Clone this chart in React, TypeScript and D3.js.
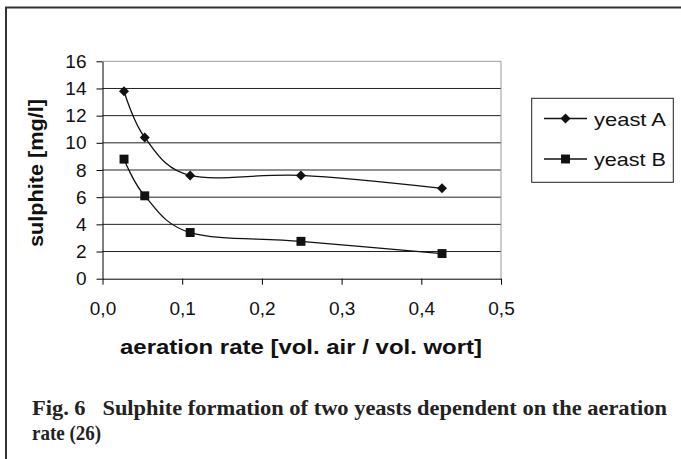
import { useEffect, useRef } from "react"
import * as d3 from "d3"

const aeration = [0.027, 0.053, 0.11, 0.249, 0.426]
const yeastA = [13.8, 10.4, 7.6, 7.6, 6.65]
const yeastB = [8.8, 6.1, 3.4, 2.75, 1.85]
const xTicks = [0, 0.1, 0.2, 0.3, 0.4, 0.5]
const yTicks = [0, 2, 4, 6, 8, 10, 12, 14, 16]
const seriesNames = ["yeast A", "yeast B"]

const W = 681
const H = 459

const App = () => {
  const svgRef = useRef<SVGSVGElement>(null)

  useEffect(() => {
    const svg = d3.select(svgRef.current)
    svg.selectAll("*").remove()

    const left = 102.5
    const right = 501
    const top = 61.3
    const bottom = 278.7

    const x = d3.scaleLinear().domain([0, 0.5]).range([left, right])
    const y = d3.scaleLinear().domain([0, 16]).range([bottom, top])

    // outer frame (top + left)
    svg.append("path")
      .attr("d", `M6,${H} L6,7.5 L${W},7.5`)
      .attr("fill", "none")
      .attr("stroke", "#333")
      .attr("stroke-width", 2)

    // gridlines
    svg.append("g")
      .selectAll("line")
      .data(yTicks.filter((t) => t > 0))
      .join("line")
      .attr("x1", left)
      .attr("x2", right)
      .attr("y1", (d) => y(d))
      .attr("y2", (d) => y(d))
      .attr("stroke", (d) => (d === 16 ? "#999" : "#222"))
      .attr("stroke-width", 1)

    // plot border right
    svg.append("line")
      .attr("x1", right).attr("x2", right)
      .attr("y1", top).attr("y2", bottom)
      .attr("stroke", "#999")

    const font = "'Liberation Sans', Arial, sans-serif"

    // y axis
    const yAxis = svg.append("g")
      .attr("transform", `translate(${left},0)`)
      .call(d3.axisLeft(y).tickValues(yTicks).tickSize(6).tickSizeOuter(0).tickPadding(10))
    yAxis.selectAll("path, line").attr("stroke", "#000")
    yAxis.selectAll("text").attr("font-family", font).attr("font-size", 19).attr("fill", "#111")

    // x axis
    const xAxis = svg.append("g")
      .attr("transform", `translate(0,${bottom})`)
      .call(
        d3.axisBottom(x)
          .tickValues(xTicks)
          .tickSize(6)
          .tickSizeOuter(0)
          .tickPadding(17)
          .tickFormat((d) => d3.format(".1f")(d as number).replace(".", ","))
      )
    xAxis.selectAll("path, line").attr("stroke", "#000")
    xAxis.selectAll("text").attr("font-family", font).attr("font-size", 19).attr("fill", "#111")

    // smoothed lines
    const line = d3.line<number>()
      .x((_, i) => x(aeration[i]))
      .y((d) => y(d))
      .curve(d3.curveCardinal.tension(0))

    const series = [yeastA, yeastB]
    series.forEach((s) => {
      svg.append("path")
        .attr("d", line(s))
        .attr("fill", "none")
        .attr("stroke", "#111")
        .attr("stroke-width", 1.3)
    })

    const diamond = d3.symbol().type(d3.symbolDiamond2).size(64)
    const square = d3.symbol().type(d3.symbolSquare).size(80)

    svg.append("g")
      .selectAll("path")
      .data(yeastA)
      .join("path")
      .attr("transform", (d, i) => `translate(${x(aeration[i])},${y(d)})`)
      .attr("d", diamond())
      .attr("fill", "#111")

    svg.append("g")
      .selectAll("path")
      .data(yeastB)
      .join("path")
      .attr("transform", (d, i) => `translate(${x(aeration[i])},${y(d)})`)
      .attr("d", square())
      .attr("fill", "#111")

    // legend
    svg.append("rect")
      .attr("x", 531.7).attr("y", 98.3)
      .attr("width", 141.6).attr("height", 84)
      .attr("fill", "none").attr("stroke", "#222")

    const legY = [118.5, 159]
    seriesNames.forEach((name, i) => {
      const g = svg.append("g")
      g.append("line")
        .attr("x1", 544).attr("x2", 587)
        .attr("y1", legY[i]).attr("y2", legY[i])
        .attr("stroke", "#111").attr("stroke-width", 1.3)
      g.append("path")
        .attr("transform", `translate(565.5,${legY[i]})`)
        .attr("d", i === 0 ? diamond() : square())
        .attr("fill", "#111")
      g.append("text")
        .attr("x", 594).attr("y", legY[i] + 7)
        .attr("font-family", font).attr("font-size", 19)
        .attr("fill", "#111")
        .attr("textLength", 72).attr("lengthAdjust", "spacingAndGlyphs")
        .text(name)
    })

    // axis titles
    svg.append("text")
      .attr("transform", `translate(43,173) rotate(-90)`)
      .attr("text-anchor", "middle")
      .attr("font-family", font).attr("font-weight", "bold").attr("font-size", 19.5)
      .attr("fill", "#111")
      .attr("textLength", 148).attr("lengthAdjust", "spacingAndGlyphs")
      .text("sulphite [mg/l]")

    svg.append("text")
      .attr("x", 120).attr("y", 354)
      .attr("font-family", font).attr("font-weight", "bold").attr("font-size", 20)
      .attr("fill", "#111")
      .attr("textLength", 362).attr("lengthAdjust", "spacingAndGlyphs")
      .text("aeration rate [vol. air / vol. wort]")

    // caption
    const serif = "'Liberation Serif', 'Times New Roman', serif"
    svg.append("text")
      .attr("x", 32).attr("y", 415)
      .attr("font-family", serif).attr("font-weight", "bold").attr("font-size", 21)
      .attr("fill", "#222")
      .style("white-space", "pre")
      .attr("textLength", 635).attr("lengthAdjust", "spacingAndGlyphs")
      .text("Fig. 6   Sulphite formation of two yeasts dependent on the aeration")
    svg.append("text")
      .attr("x", 32).attr("y", 440)
      .attr("font-family", serif).attr("font-weight", "bold").attr("font-size", 22)
      .attr("fill", "#222")
      .attr("textLength", 69).attr("lengthAdjust", "spacingAndGlyphs")
      .text("rate (26)")
  }, [])

  return (
    <svg
      ref={svgRef}
      width={W}
      height={H}
      style={{ position: "absolute", left: 0, top: 0, background: "#fff" }}
    />
  )
}

export default App
